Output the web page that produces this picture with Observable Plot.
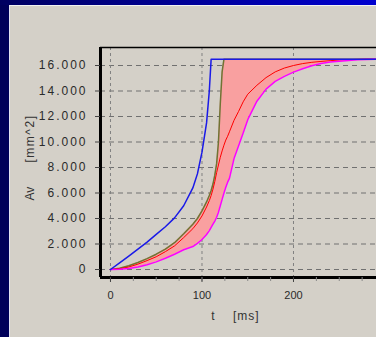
<!DOCTYPE html>
<html><head><meta charset="utf-8">
<script src="https://cdn.jsdelivr.net/npm/d3@7"></script>
<script src="https://cdn.jsdelivr.net/npm/@observablehq/plot@0.6"></script>
<style>
html,body{margin:0;padding:0;width:376px;height:337px;overflow:hidden;background:#00005a;}
#top{position:absolute;left:0;top:0;width:376px;height:5px;background:linear-gradient(to right,#000060,#0000d0);}
#panel{position:absolute;left:9px;top:5px;width:367px;height:332px;background:#d4d0c8;border-left:1px solid #e4e4f2;border-top:1px solid #f2f2f2;box-sizing:border-box;}
#chart{position:absolute;left:10px;top:6px;}
</style></head>
<body><div id="top"></div><div id="panel"></div><div id="chart"></div>
<script>
const tGrid   = [0,10,20,30,40,50,60,70,80,90,95,100,105,108,110,112,114,116,118,120,122,124,126,128,130,135,140,145,150,160,170,180,190,200,210,220,230,240,250,260,270,280,290];
const blue    = [0,520,1050,1600,2150,2750,3350,4050,5000,6400,7500,9200,11500,14000,16500,16500,16500,16500,16500,16500,16500,16500,16500,16500,16500,16500,16500,16500,16500,16500,16500,16500,16500,16500,16500,16500,16500,16500,16500,16500,16500,16500,16500];
const green   = [0,100,300,550,850,1200,1600,2100,2800,3550,4000,4600,5300,5800,6200,6700,7400,8300,10000,13000,15500,16500,16500,16500,16500,16500,16500,16500,16500,16500,16500,16500,16500,16500,16500,16500,16500,16500,16500,16500,16500,16500,16500];
const red     = [0,60,200,420,700,1000,1400,1850,2500,3200,3650,4200,4900,5400,5800,6300,6900,7600,8200,8800,9300,9750,10150,10450,10800,11700,12400,13150,13750,14450,15050,15500,15800,16000,16150,16250,16320,16380,16430,16460,16480,16500,16500];
const magenta = [0,20,80,200,380,600,880,1200,1550,1800,2050,2350,2750,3050,3300,3550,3800,4100,4500,5000,5500,6000,6450,6850,7150,8700,9700,10700,11750,13200,14150,14750,15150,15480,15750,15980,16150,16270,16340,16400,16450,16480,16500];

const yTicks = [0,2000,4000,6000,8000,10000,12000,14000,16000];
const xTicks = [0,100,200];
const xMinor = [0,25,50,75,100,125,150,175,200,225,250,275];
const xLabel = "t\u00a0\u00a0\u00a0\u00a0[ms]";
const yLabelName = "Av";
const yLabelUnit = "[mm^2]";

const xDomain = [-10.9, 290.7];
const yDomain = [-627, 17412];

const rows = tGrid.map((t,i)=>({t, blue:blue[i], green:green[i], red:red[i], magenta:magenta[i]}));
const fmt = d3.formatLocale({decimal:",", thousands:".", grouping:[3], currency:["",""]}).format(",d");

const chart = Plot.plot({
  width: 366, height: 331,
  marginLeft: 90, marginRight: 0, marginTop: 41, marginBottom: 60,
  style: {background:"#d4d0c8", fontFamily:"'Liberation Sans', Arial, sans-serif", color:"#2a2a2a", overflow:"visible"},
  x: {domain: xDomain},
  y: {domain: yDomain},
  marks: [
    Plot.gridY(yTicks, {stroke:"#707070", strokeOpacity:1, strokeDasharray:"5,4"}),
    Plot.gridX(xTicks, {stroke:"#808080", strokeOpacity:1, strokeDasharray:"3,3"}),
    Plot.areaY(rows, {x:"t", y1:"magenta", y2:"green", fill:"#f9a0a0"}),
    Plot.line(rows, {x:"t", y:"green", stroke:"#6f7434", strokeWidth:1.5}),
    Plot.line(rows, {x:"t", y:"red", stroke:"#ff0000", strokeWidth:1}),
    Plot.line(rows, {x:"t", y:"magenta", stroke:"#ff00ff", strokeWidth:1.5}),
    Plot.line(rows, {x:"t", y:"blue", stroke:"#1a1ae8", strokeWidth:1.5}),
    Plot.ruleY([yDomain[1]], {stroke:"#000", strokeWidth:1.5}),
    Plot.ruleY([yDomain[0]], {stroke:"#000", strokeWidth:3}),
    Plot.ruleX([xDomain[0]], {stroke:"#000", strokeWidth:3}),
    Plot.axisY(yTicks, {anchor:"left", tickSize:5, tickPadding:8, tickFormat:fmt, fontSize:12, label:null, stroke:"#444"}),
    Plot.axisX(xMinor, {anchor:"bottom", tickSize:4, tickFormat:()=>"", label:null, stroke:"#888"}),
    Plot.axisX(xTicks, {anchor:"bottom", tickSize:5, tickPadding:9, fontSize:11, label:null, stroke:"#444"}),
    Plot.text([xLabel], {frameAnchor:"bottom", dx:-3, dy:42, fontSize:12, fill:"#333"}),
    Plot.text([yLabelName], {frameAnchor:"left", rotate:-90, dx:-70, dy:38, fontSize:12, fill:"#333"}),
    Plot.text([yLabelUnit], {frameAnchor:"left", rotate:-90, dx:-70, dy:0, fontSize:12, fill:"#333"})
  ]
});
document.getElementById("chart").appendChild(chart);
d3.select(chart).selectAll('[aria-label="y-axis tick label"] text').attr("letter-spacing", "2px");
const texts = d3.select(chart).selectAll('[aria-label="text"]').nodes();
d3.select(texts[0]).selectAll("text").attr("letter-spacing", "1px");
d3.select(texts[2]).selectAll("text").attr("letter-spacing", "1.5px");
</script></body></html>
